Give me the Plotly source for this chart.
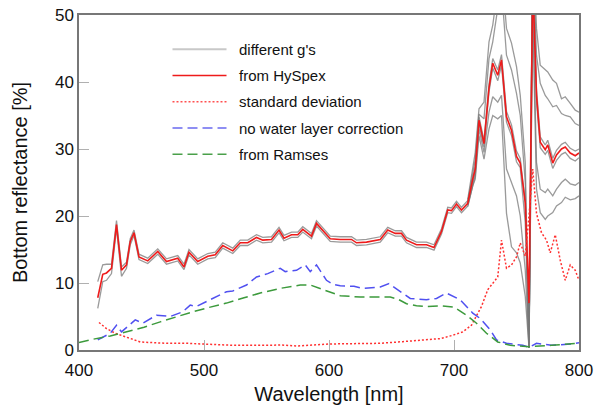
import plotly.graph_objects as go

# ---------------- data ----------------
wl = [415, 419, 422, 426, 430, 434, 438, 441, 444, 448, 455, 463, 470, 479, 484, 488, 495,
      503, 509, 515, 523, 529, 535, 542, 547, 554, 560, 564, 570, 575, 579, 586, 590, 595,
      601, 609, 618, 622, 630, 641, 647, 653, 658, 662, 670, 678, 684, 690, 695, 698, 702,
      706, 711, 715, 717, 720, 724, 728, 731, 735, 738, 742, 746, 750, 753, 757, 760, 763,
      766, 769, 773, 775, 779, 782, 786, 789, 793, 797, 800]
hyspex = [7.8, 11.3, 11.5, 12.2, 18.7, 11.9, 12.7, 16.2, 17.5, 13.9, 13.3, 14.7, 13.2, 13.7,
          12.4, 14.6, 13.2, 14.0, 14.2, 15.6, 14.8, 16.0, 16.0, 16.8, 16.4, 16.5, 17.9, 16.7,
          17.2, 17.2, 18.0, 17.0, 18.9, 17.8, 16.6, 16.5, 16.5, 16.0, 16.1, 16.5, 17.9, 17.4,
          17.4, 16.4, 15.7, 15.7, 15.3, 17.7, 20.9, 20.8, 21.8, 20.9, 21.9, 25.5, 27.0, 34.3,
          30.8, 39.1, 42.8, 41.0, 43.3, 34.8, 32.8, 28.9, 27.9, 22.0, 7.0, 55.0, 38.0, 31.0,
          29.9, 30.6, 27.9, 29.1, 30.0, 30.3, 29.4, 29.0, 29.4]

# different g's, part below 711 nm (two curves hugging the HySpex curve)
wl_g_lo = wl[:53]
g_band_up = [10.2, 12.7, 12.8, 12.8, 19.3, 12.4, 13.1, 16.6, 17.9, 14.3, 13.7, 15.1, 13.6, 14.1,
             12.8, 15.0, 13.6, 14.4, 14.6, 16.0, 15.2, 16.4, 16.4, 17.2, 16.8, 16.9, 18.3, 17.1,
             17.6, 17.6, 18.4, 17.4, 19.3, 18.2, 17.0, 16.9, 16.9, 16.4, 16.5, 16.9, 18.3, 17.8,
             17.8, 16.8, 16.1, 16.1, 15.7, 18.1, 21.3, 21.2, 22.2, 21.3, 22.3]
g_band_dn = [6.2, 10.2, 10.4, 11.4, 18.1, 11.0, 12.2, 15.7, 17.1, 13.5, 12.9, 14.3, 12.8, 13.3,
             12.0, 14.2, 12.8, 13.6, 13.8, 15.2, 14.4, 15.6, 15.6, 16.4, 16.0, 16.1, 17.5, 16.3,
             16.8, 16.8, 17.6, 16.6, 18.5, 17.4, 16.2, 16.1, 16.1, 15.6, 15.7, 16.1, 17.5, 17.0,
             17.0, 16.0, 15.3, 15.3, 14.9, 17.3, 20.5, 20.4, 21.4, 20.5, 21.5]

# different g's, part from 711 nm on (where they spread)
wl_g_hi = wl[52:]
g_hi1 = [22.5, 27.0, 29.5, 36.0, 37.0, 46.0, 48.5, 54.0, 57.0, 48.0, 45.8, 42.3, 38.0, 28.0,
         0.3, 62.0, 48.0, 42.5, 41.8, 41.5, 40.3, 39.8, 37.5, 37.8, 36.8, 35.8, 35.5]
g_hi2 = [22.1, 26.5, 28.5, 35.2, 34.5, 43.5, 46.0, 51.0, 54.0, 44.0, 41.8, 38.3, 35.0, 25.0,
         0.3, 60.0, 44.0, 39.8, 38.0, 37.5, 36.3, 36.5, 35.3, 35.0, 34.8, 33.8, 33.5]
g_n1 = [22.2, 25.9, 27.4, 34.8, 31.3, 39.7, 43.5, 41.8, 44.1, 35.6, 33.6, 29.7, 28.6, 22.0,
        1.0, 60.0, 39.0, 31.8, 30.6, 31.3, 28.6, 29.8, 30.7, 31.0, 30.1, 29.7, 30.0]
g_n2 = [21.6, 25.1, 26.6, 33.8, 30.3, 38.5, 42.1, 40.2, 42.5, 34.0, 32.0, 28.1, 27.2, 19.0,
        0.5, 58.0, 37.0, 30.2, 29.2, 29.8, 27.1, 28.3, 29.2, 29.5, 28.6, 28.2, 28.7]
g_lo1 = [21.6, 24.8, 26.0, 33.0, 29.5, 35.5, 37.8, 37.0, 38.0, 27.0, 25.0, 23.0, 20.0, 12.0,
         0.3, 52.0, 28.0, 24.0, 23.5, 24.0, 23.0, 24.0, 25.0, 25.5, 24.8, 24.6, 25.0]
g_lo2 = [21.4, 24.5, 25.5, 32.0, 28.5, 33.0, 35.0, 34.5, 35.0, 20.4, 15.4, 14.5, 13.0, 8.0,
         0.3, 50.5, 24.0, 20.5, 19.5, 20.0, 20.5, 21.5, 22.0, 22.8, 22.4, 22.6, 23.0]

wl_sd = [416, 422, 429, 435, 443, 449, 459, 470, 486, 500, 510, 524, 550, 561, 574, 590, 601,
         620, 641, 659, 681, 689, 699, 707, 714, 718, 722, 727, 733, 735, 738, 742, 746, 750,
         753, 757, 760, 763, 766, 770, 774, 777, 781, 785, 789, 793, 797, 800]
std_dev = [4.1, 3.2, 2.5, 2.1, 1.6, 1.2, 1.1, 1.0, 1.0, 0.85, 0.75, 0.7, 0.7, 0.75, 0.6, 0.8,
           0.9, 0.95, 1.0, 1.25, 1.5, 1.7, 2.2, 2.7, 3.7, 5.0, 6.5, 9.0, 10.4, 10.9, 16.4, 12.2,
           12.7, 13.9, 16.0, 14.0, 20.0, 27.0, 20.4, 17.5, 16.4, 14.5, 17.2, 13.4, 10.4, 12.7,
           11.9, 10.4]

wl_nw = [415, 425, 430, 434, 445, 451, 462, 473, 483, 489, 494, 505, 518, 523, 534, 542, 551,
         561, 565, 574, 581, 585, 590, 598, 603, 609, 620, 627, 641, 648, 657, 665, 678, 686,
         694, 705, 715, 721, 729, 734, 742, 755, 760, 766, 778, 794, 800]
no_water = [1.5, 2.5, 3.7, 2.7, 4.5, 4.0, 5.2, 5.0, 5.7, 6.7, 6.5, 7.5, 8.7, 8.8, 9.7, 10.9,
            11.4, 12.2, 11.7, 11.9, 12.7, 11.7, 12.7, 10.4, 9.8, 9.6, 9.5, 9.2, 9.4, 9.9, 8.7,
            7.7, 7.5, 7.7, 8.5, 7.5, 5.5, 4.7, 3.0, 1.5, 1.0, 0.7, 0.4, 1.0, 0.7, 0.9, 1.1]

wl_ra = [400, 411, 425, 438, 452, 465, 478, 491, 505, 518, 532, 545, 561, 577, 585, 593, 601,
         609, 625, 641, 649, 655, 662, 670, 678, 689, 700, 710, 718, 726, 735, 745, 760, 778, 800]
ramses = [1.1, 1.6, 2.1, 2.7, 3.4, 4.2, 5.0, 5.7, 6.4, 7.0, 7.8, 8.5, 9.2, 9.7, 9.7, 9.2, 8.6,
          8.1, 7.9, 7.9, 7.9, 7.6, 6.9, 6.6, 6.5, 6.6, 6.4, 5.2, 4.0, 2.5, 1.2, 0.7, 0.5, 0.7, 1.0]

x_ticks = [400, 500, 600, 700, 800]
y_ticks = [0, 10, 20, 30, 40, 50]

legend_labels = ["different g's", "from HySpex", "standard deviation",
                 "no water layer correction", "from Ramses"]

# ---------------- styles ----------------
GRAY = "rgba(120,120,120,0.75)"
RED = "#ee1b1b"
line_styles = [dict(color="#c8c8c8", width=2),
               dict(color=RED, width=1.6),
               dict(color="#ff5050", width=1.5, dash="2px,2px"),
               dict(color="#6a6af0", width=1.5, dash="10px,5px"),
               dict(color="#4aa04a", width=1.5, dash="10px,5px")]

fig = go.Figure()

gray_sets = [(wl_g_lo, g_band_up), (wl_g_lo, g_band_dn),
             (wl_g_hi, g_hi1), (wl_g_hi, g_hi2), (wl_g_hi, g_n1), (wl_g_hi, g_n2),
             (wl_g_hi, g_lo1), (wl_g_hi, g_lo2)]
for xx, yy in gray_sets:
    fig.add_trace(go.Scatter(x=xx, y=yy, mode="lines",
                             line=dict(color=GRAY, width=1.3),
                             name=legend_labels[0], showlegend=False, hoverinfo="skip"))

fig.add_trace(go.Scatter(x=wl, y=hyspex, mode="lines", line=dict(color=RED, width=1.6),
                         name=legend_labels[1], showlegend=False))
fig.add_trace(go.Scatter(x=wl_sd, y=std_dev, mode="lines",
                         line=dict(color="#ff3030", width=1.5, dash="2px,2px"),
                         name=legend_labels[2], showlegend=False))
fig.add_trace(go.Scatter(x=wl_nw, y=no_water, mode="lines",
                         line=dict(color="#5050f0", width=1.5, dash="10px,5px"),
                         name=legend_labels[3], showlegend=False))
fig.add_trace(go.Scatter(x=wl_ra, y=ramses, mode="lines",
                         line=dict(color="#3c9a3c", width=1.5, dash="10px,5px"),
                         name=legend_labels[4], showlegend=False))

# hand-placed legend (sample line + label), in plot-area paper coordinates
leg_x0, leg_x1, leg_tx = 0.187, 0.295, 0.315
leg_top, leg_step = 0.8976, 0.0784
for k, (lab, st) in enumerate(zip(legend_labels, line_styles)):
    yk = leg_top - k * leg_step
    fig.add_shape(type="line", xref="paper", yref="paper", x0=leg_x0, x1=leg_x1,
                  y0=yk, y1=yk, line=st)
    fig.add_annotation(xref="paper", yref="paper", x=leg_tx, y=yk, text=lab,
                       showarrow=False, xanchor="left", yanchor="middle",
                       font=dict(size=15, color="#111"))

fig.update_layout(
    width=596, height=411,
    margin=dict(l=79, r=17, t=15, b=61),
    paper_bgcolor="white", plot_bgcolor="white",
    showlegend=False,
    font=dict(family="Liberation Sans, Arial, sans-serif", size=17, color="#111"),
    xaxis=dict(range=[400, 800], tickvals=x_ticks, ticks="inside", ticklen=10,
               tickcolor="#b0b0b0", showgrid=False, zeroline=False, automargin=False,
               showline=True, linecolor="#777", linewidth=1.5, mirror=True,
               ticklabelstandoff=4, ticklabeloverflow="allow",
               title=dict(text="Wavelength [nm]", standoff=8),
               tickfont=dict(size=17)),
    yaxis=dict(range=[0, 50], tickvals=y_ticks, ticks="inside", ticklen=10,
               tickcolor="#b0b0b0", showgrid=False, zeroline=False, automargin=False,
               showline=True, linecolor="#777", linewidth=1.5, mirror=True,
               ticklabeloverflow="allow",
               title=dict(text="Bottom reflectance [%]", standoff=22),
               tickfont=dict(size=17)),
)

# remove the default 8px page margin so the figure sits at the window's corner
fig.write_html("out.html", config={"displayModeBar": False},
               post_script="document.body.style.margin='0';")
